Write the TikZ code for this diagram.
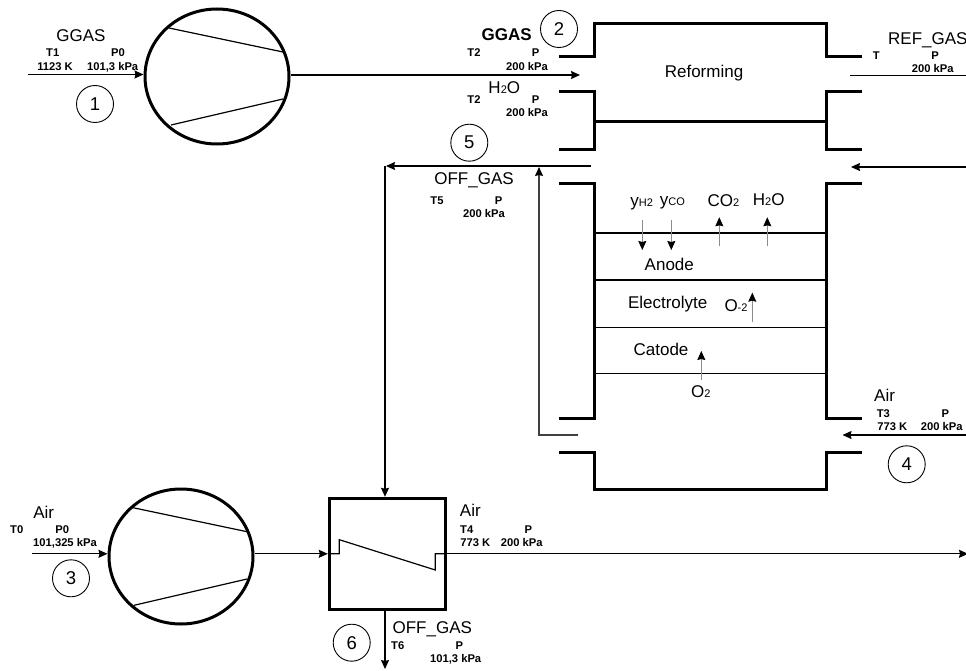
\documentclass[tikz,border=0pt]{standalone}
\usepackage{fontspec}
\setmainfont{Liberation Sans}
\usetikzlibrary{arrows.meta, shapes.geometric}
\newcommand{\lowtxt}[1]{{\fontsize{11}{11}\selectfont #1}}
\tikzset{
  wall/.style={line width=3pt, line join=miter},
  layer/.style={line width=1.3pt},
  flow/.style={line width=1.1pt, -{Stealth[length=9pt, width=8pt, inset=1pt, black]}},
  plainflow/.style={line width=1.1pt},
  species/.style={line width=0.6pt, draw=black!45, -{Stealth[length=9pt, width=8pt, inset=1pt, black]}},
  vane/.style={line width=1.2pt},
  compressor/.style={draw, ellipse, line width=3pt, minimum width=144pt, minimum height=135pt, inner sep=0pt},
  exchanger/.style={draw, rectangle, line width=3pt, minimum width=116pt, minimum height=111pt, inner sep=0pt},
  stateno/.style={draw, circle, line width=0.9pt, minimum size=37pt, inner sep=0pt, font=\fontsize{18.5}{18.5}\selectfont},
  big/.style={inner sep=0pt, text height=12pt, text depth=0pt, font=\fontsize{17}{17}\selectfont},
  small/.style={inner sep=0pt, text height=8pt, text depth=0pt, font=\fontsize{11.2}{11.2}\selectfont\bfseries}
}
\begin{document}
\begin{tikzpicture}[x=1pt, y=-1pt]
\useasboundingbox (0,0) rectangle (966,671);

% Compressors and heat exchanger
\node[compressor] (comp1) at (217, 76.5) {};
\node[compressor] (comp3) at (181, 556.5) {};
\node[exchanger] (hx) at (387.3, 553.8) {};
\draw[vane] (169, 28) -- (283, 52);
\draw[vane] (171, 125) -- (283, 99);
\draw[vane] (133, 507.7) -- (247, 531.7);
\draw[vane] (134, 605.3) -- (247, 579);
\draw[vane] (hx.west) -- (339.3, 553.8) -- (339.3, 539.7) -- (435.3, 570) -- (435.3, 553.8) -- (hx.east);

% Reactor walls
\draw[wall] (559, 57) -- (594, 57) -- (594, 24) -- (826, 24) -- (826, 57) -- (862, 57);
\draw[wall] (559, 92) -- (594, 92) -- (594, 150) -- (559, 150);
\draw[wall] (862, 92) -- (826, 92) -- (826, 150) -- (862, 150);
\draw[wall] (594, 122) -- (826, 122);
\draw[wall] (559, 184) -- (594, 184) -- (594, 418) -- (559, 418);
\draw[wall] (862, 184) -- (826, 184) -- (826, 418) -- (862, 418);
\draw[wall] (559, 452) -- (594, 452) -- (594, 489) -- (826, 489) -- (826, 452) -- (862, 452);

% Cell layers
\draw[layer] (594, 233) -- (826, 233);
\draw[layer] (594, 280) -- (826, 280);
\draw[layer] (594, 327.7) -- (826, 327.7);
\draw[layer] (594, 373.7) -- (826, 373.7);

% Free ends of the streams
\coordinate (ggasin) at (28, 74.5);
\coordinate (ggasout) at (580, 75);
\coordinate (airin) at (32, 553.8);
\coordinate (airout) at (968, 553.8);
\coordinate (refstart) at (850, 75.3);
\coordinate (refend) at (966, 75.3);
\coordinate (backstart) at (966, 167);
\coordinate (backend) at (851, 167);
\coordinate (airstart) at (966, 435);
\coordinate (airend) at (842.5, 435);
\coordinate (offstart) at (591, 166);
\coordinate (offturn) at (385, 166);
\coordinate (offarrow) at (386, 166);
\coordinate (risestart) at (578, 435);
\coordinate (riseturn) at (539, 435);
\coordinate (riseend) at (539, 167);
\coordinate (offend) at (385, 669);

% Streams
\draw[flow] (ggasin) -- (ggasin -| comp1.west);
\draw[flow] (comp1.east |- ggasout) -- (ggasout);
\draw[plainflow] (refstart) -- (refend);
\draw[flow] (backstart) -- (backend);
\draw[flow] (airstart) -- (airend);
\draw[flow] (offstart) -- (offarrow);
\draw[flow] (offturn) -- (offturn |- hx.north);
\draw[flow, draw=black!75] (risestart) -- (riseturn) -- (riseend);
\draw[flow] (airin) -- (airin -| comp3.west);
\draw[flow] (comp3.east |- hx.west) -- (hx.west);
\draw[flow] (hx.east) -- (airout);
\draw[flow] (offend |- hx.south) -- (offend);

% Species crossing the layers
\coordinate (hyin) at (642.3, 220);
\coordinate (hyend) at (642.3, 250);
\coordinate (coin) at (671.3, 220);
\coordinate (coend) at (671.3, 250);
\coordinate (cotwoin) at (719.3, 246);
\coordinate (cotwoend) at (719.3, 217.3);
\coordinate (waterin) at (767.3, 246);
\coordinate (waterend) at (767.3, 217.3);
\coordinate (ionin) at (752.3, 321.7);
\coordinate (ionend) at (752.3, 292.7);
\coordinate (oxin) at (701.3, 380);
\coordinate (oxend) at (701.3, 351);
\draw[species] (hyin) -- (hyend);
\draw[species] (coin) -- (coend);
\draw[species] (cotwoin) -- (cotwoend);
\draw[species] (waterin) -- (waterend);
\draw[species] (ionin) -- (ionend);
\draw[species] (oxin) -- (oxend);

% State numbers
\node[stateno] (num1) at (95, 104) {1};
\node[stateno] (num2) at (559, 29) {2};
\node[stateno] (num3) at (71, 578.3) {3};
\node[stateno] (num4) at (906.7, 464.3) {4};
\node[stateno] (num5) at (469.3, 142.7) {5};
\node[stateno] (num6) at (351.7, 642.7) {6};

% Stream 1
\node[big] (ggas1) at (81, 35.3) {GGAS};
\node[small] (t1) at (52.7, 53) {T1};
\node[small] (p1) at (118, 53) {P0};
\node[small] (tv1) at (55, 66.3) {1123 K};
\node[small] (pv1) at (112.7, 66.3) {101,3 kPa};

% Stream 2
\node[big] (ggas2) at (506.7, 35) {\bfseries GGAS};
\node[small] (t2) at (474, 53) {T2};
\node[small] (p2) at (535.7, 53) {P};
\node[small] (pv2) at (527, 66.3) {200 kPa};
\node[big] (water2) at (504.3, 87.7) {H\lowtxt{2}O};
\node[small] (t2b) at (474, 99.3) {T2};
\node[small] (p2b) at (535.7, 99.3) {P};
\node[small] (pv2b) at (527, 112.3) {200 kPa};

% Reformed gas
\node[big] (reform) at (704, 71.7) {Reforming};
\node[big, anchor=west] (refgas) at (888, 39) {REF\_GAS};
\node[small] (tr) at (876.3, 55.3) {T};
\node[small] (pr) at (935, 55.3) {P};
\node[small] (pvr) at (932.7, 68.3) {200 kPa};

% Stream 5
\node[big] (off5) at (474, 178.3) {OFF\_GAS};
\node[small] (t5) at (437, 200.7) {T5};
\node[small] (p5) at (498.7, 200.7) {P};
\node[small] (pv5) at (484, 213.3) {200 kPa};

% Cell
\node[big] (yhtwo) at (641.7, 200.7) {y\lowtxt{H2}};
\node[big] (yco) at (672.3, 199.5) {y\lowtxt{CO}};
\node[big] (cotwo) at (723.3, 200.7) {CO\lowtxt{2}};
\node[big] (water) at (768.7, 200) {H\lowtxt{2}O};
\node[big] (anode) at (669.3, 264.7) {Anode};
\node[big] (electrolyte) at (667.7, 302) {Electrolyte};
\node[big] (ion) at (736, 305) {O\lowtxt{-2}};
\node[big] (catode) at (661, 349.3) {Catode};
\node[big] (oxygen) at (700.7, 391.7) {O\lowtxt{2}};

% Stream 4
\node[big, anchor=west] (air4) at (874, 395) {Air};
\node[small] (t3) at (883.3, 413.3) {T3};
\node[small] (p3) at (945.3, 413.3) {P};
\node[small] (tv3) at (892.3, 426.7) {773 K};
\node[small] (pv3) at (941.7, 426.7) {200 kPa};

% Stream 3
\node[big] (air3) at (43.7, 512.3) {Air};
\node[small] (t0) at (16.7, 529.3) {T0};
\node[small] (p0) at (62.3, 529.3) {P0};
\node[small] (pv0) at (65, 542) {101,325 kPa};

% Air leaving the exchanger
\node[big] (airhx) at (470.3, 510.7) {Air};
\node[small] (t4) at (466.7, 529.3) {T4};
\node[small] (p4) at (528.3, 529.3) {P};
\node[small] (tv4) at (475.3, 542) {773 K};
\node[small] (pv4) at (521.7, 542) {200 kPa};

% Stream 6
\node[big] (off6) at (432.3, 627.7) {OFF\_GAS};
\node[small] (t6) at (397.7, 645) {T6};
\node[small] (p6) at (459.3, 645) {P};
\node[small] (pv6) at (455.7, 658) {101,3 kPa};
\end{tikzpicture}
\end{document}
